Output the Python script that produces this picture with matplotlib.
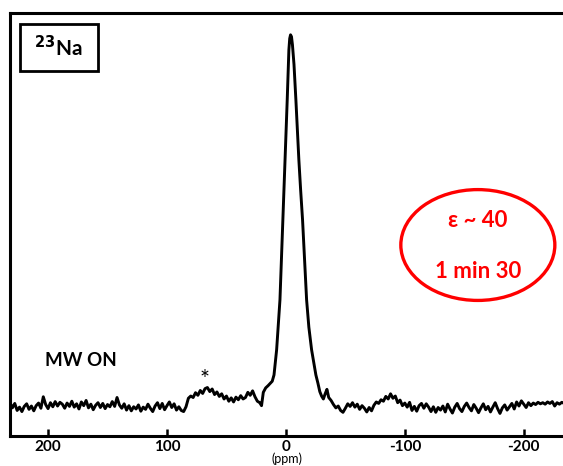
import matplotlib
matplotlib.use("Agg")
import matplotlib.pyplot as plt
from matplotlib.patches import Ellipse, Rectangle

plt.rcParams['font.family'] = ['Lato', 'DejaVu Sans']

# 23Na spectrum, chemical shift (ppm) and intensity (peak = 100)
ppm = [232, 230, 228, 226, 224, 222, 220, 218, 216, 214, 212, 210, 208, 206, 204, 202,
       200, 198, 196, 194, 192, 190, 188, 186, 184, 182, 180, 178, 176, 174, 172, 170,
       168, 166, 164, 162, 160, 158, 156, 154, 152, 150, 148, 146, 144, 142, 140, 138,
       136, 134, 132, 130, 128, 126, 124, 122, 120, 118, 116, 114, 112, 110, 108, 106,
       104, 102, 100, 98, 96, 94, 92, 90, 88, 86, 84, 82, 80, 78, 76, 74,
       72, 70, 68, 66, 64, 62, 60, 58, 56, 54, 52, 50, 48, 46, 44, 42,
       40, 38, 36, 34, 32, 30, 28, 26, 24, 22, 20.5, 19, 17, 15, 13, 11.5,
       10, 7.8, 6.5, 5.0, 3.8, 2.3, 0.8, -0.2, -1.1, -2.5, -3.2, -3.9, -4.7, -5.5, -6.8, -8.4,
       -9.7, -10.9, -12.4, -14.0, -15.7, -17.4, -19.3, -21.6, -25.2, -26.9, -28.5, -30, -31.5, -33, -34.5, -36,
       -38, -40, -42, -44, -46, -48, -50, -52, -54, -56, -58, -60, -62, -64, -66, -68,
       -70, -72, -74, -76, -78, -80, -82, -84, -86, -88, -90, -92, -94, -96, -98, -100,
       -102, -104, -106, -108, -110, -112, -114, -116, -118, -120, -122, -124, -126, -128, -130, -132,
       -134, -136, -138, -140, -142, -144, -146, -148, -150, -152, -154, -156, -158, -160, -162, -164,
       -166, -168, -170, -172, -174, -176, -178, -180, -182, -184, -186, -188, -190, -192, -194, -196,
       -198, -200, -202, -204, -206, -208, -210, -212, -214, -216, -218, -220, -222, -224, -226, -228,
       -230, -232, -234]
intensity = [0.6, -0.8, 0.4, -1.5, -0.6, -1.8, -0.4, 0.3, -1.2, -0.3, -1.6, -0.2, 0.5, -0.9, 2.2, 0.1,
             -1.0, 0.6, -0.5, 0.9, -0.3, 0.7, 0.2, -0.9, 0.5, -0.4, 1.0, -0.6, 0.3, -1.1, 0.8, -0.2,
             1.2, -0.8, 0.2, -1.3, -0.1, 0.6, -0.7, 0.4, -1.0, 0.1, -0.5, 0.9, -0.4, 2.0, 0.0, -0.9,
             0.3, -1.4, -0.2, -1.6, -0.5, -1.1, 0.0, -1.7, -0.6, -1.2, 0.2, -0.9, -1.8, -0.3, 0.6, -1.0,
             0.4, -1.3, -0.2, 0.8, -0.7, 0.3, -1.4, -0.5, -1.5, -1.8, -0.5, 1.8, 2.4, 2.0, 3.3, 2.6,
             3.9, 3.1, 4.4, 4.7, 3.6, 4.3, 2.8, 3.5, 2.3, 3.0, 1.6, 2.4, 1.0, 1.9, 0.8, 2.1,
             1.4, 2.5, 1.6, 2.0, 3.4, 2.6, 3.8, 2.2, 1.0, 0.6, -0.2, 3.4, 4.6, 5.2, 5.9, 6.4,
             8.1, 14.9, 21.0, 28.4, 39.0, 52.7, 66.0, 75.0, 82.4, 95.9, 99.0, 100.0, 99.5, 97.3, 92.0, 82.4,
             74.0, 66.2, 58.0, 50.0, 39.0, 28.4, 21.0, 14.9, 8.1, 5.9, 3.6, 2.4, 1.6, 3.0, 4.2, 2.0,
             1.2, 0.1, -0.8, -0.3, -1.5, -2.0, -0.9, 0.3, -0.4, 0.6, -0.6, 0.2, -1.2, -0.2, -0.9, -1.9,
             -0.7, -1.6, -0.1, 0.8, 0.4, 1.4, 1.0, 2.3, 1.6, 3.0, 1.8, 2.4, 0.6, 1.3, -0.2, 0.5,
             -0.6, 0.7, -1.5, -0.4, -1.7, -0.2, 0.4, -0.9, 0.3, -0.6, -1.8, -0.5, -2.0, -0.7, -1.4, -0.3,
             -1.9, 0.2, -1.1, -2.2, -0.6, 0.4, -1.0, -1.8, -0.4, 0.5, -0.7, -1.6, 0.1, -0.9, -2.1, -0.8,
             0.3, -1.3, -0.4, -1.9, -0.6, 0.6, -1.0, -2.3, -0.8, 0.0, -1.4, -0.5, 0.4, -1.1, 0.8, -0.3,
             1.1, 0.2, -0.7, 0.6, -0.2, 0.5, 0.1, 0.7, 0.3, 0.6, 0.2, 0.8, 0.4, 0.9, -0.3, 0.6,
             0.2, 0.7, 0.4]
xticks = [200, 100, 0, -100, -200]

fig = plt.figure(figsize=(5.63, 4.66), dpi=100)
ax = fig.add_axes([10 / 563, 30 / 466, 553 / 563, 423 / 466])
ax.plot(ppm, intensity, color='black', lw=2.1)
ax.set_xlim(232, -233)
ax.set_ylim(-8.4, 105.9)

ax.spines['right'].set_visible(False)
for s in ['left', 'top', 'bottom']:
    ax.spines[s].set_linewidth(2.2)
ax.set_yticks([])
ax.set_xticks(xticks)
ax.set_xticklabels([str(t) for t in xticks], fontsize=11, fontweight='bold')
ax.tick_params(axis='x', direction='in', length=5, width=1.8, pad=3)
ax.set_xlabel('(ppm)', fontsize=9, labelpad=-1)

# 23Na label box
ax.add_patch(Rectangle((0.018, 0.863), 0.141, 0.111, transform=ax.transAxes,
                       fill=False, lw=2.0, ec='black'))
ax.text(0.088, 0.918, r'$^{\mathbf{23}}$Na', transform=ax.transAxes, ha='center', va='center',
        fontsize=15, fontweight='bold')

ax.text(0.063, 0.165, 'MW ON', transform=ax.transAxes, fontsize=13.5, fontweight='bold')
ax.text(68, 7.0, '*', ha='center', va='center', fontsize=17)

# red ellipse
ax.add_patch(Ellipse((0.846, 0.4515), 0.2785, 0.262, transform=ax.transAxes,
                     fill=False, ec='red', lw=2.4))
ax.text(0.846, 0.51, 'ε ~ 40', transform=ax.transAxes, ha='center', va='center',
        fontsize=16, fontweight='bold', color='red')
ax.text(0.846, 0.39, '1 min 30', transform=ax.transAxes, ha='center', va='center',
        fontsize=16, fontweight='bold', color='red')

fig.savefig('out.png', dpi=100)
